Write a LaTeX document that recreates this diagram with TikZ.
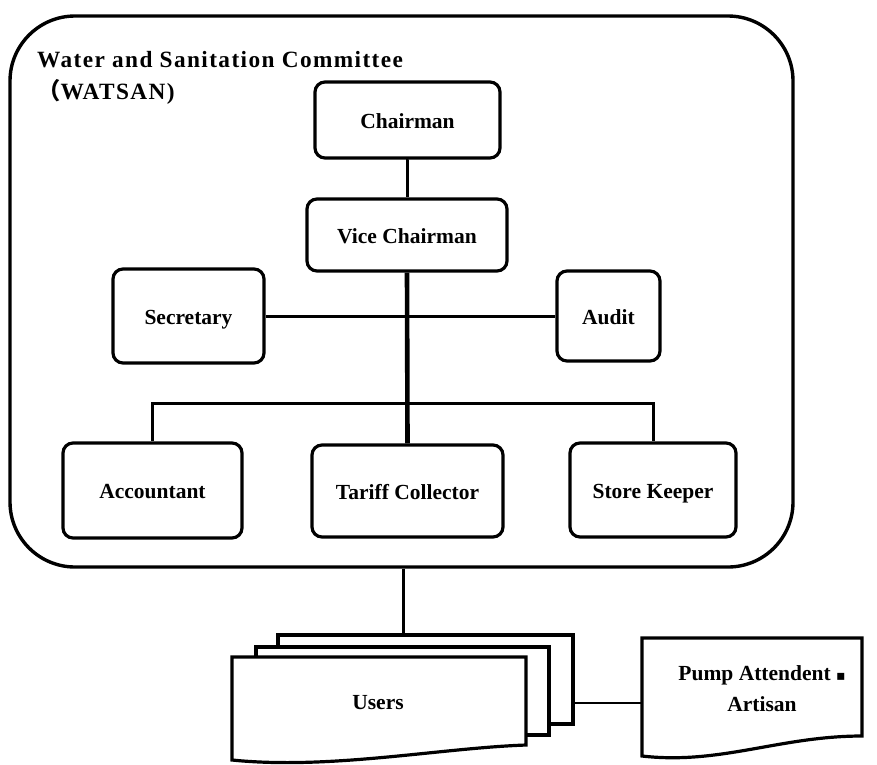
\documentclass[tikz,border=0pt]{standalone}
\usepackage{fontspec}
\setmainfont{Liberation Serif}
\newfontfamily\cjkfont{Noto Sans CJK SC}
\newfontfamily\symfont{DejaVu Sans}
\begin{document}
\begin{tikzpicture}[x=1pt,y=-1pt,
  box/.style={draw, line width=3.2pt, rounded corners=10pt, align=center,
    inner sep=0pt, text height=20pt, text depth=4pt,
    font=\bfseries\fontsize{21.5}{24}\selectfont},
  link/.style={line width=3pt},
  trunk/.style={line width=4.6pt},
  sheet/.style={draw, fill=white, line width=3.2pt, line join=miter},
  label/.style={align=center, inner sep=0pt, font=\bfseries\fontsize{21.5}{31}\selectfont}]
\useasboundingbox (0,0) rectangle (877,764);

% committee frame
\node[draw, line width=3.4pt, rounded corners=65pt, minimum width=783pt,
  minimum height=551pt, inner sep=0pt] (watsan) at (401.5,291.5) {};
\node[anchor=west, inner sep=0pt, align=left,
  font=\bfseries\fontsize{23.3}{32}\selectfont\addfontfeature{LetterSpace=6}]
  (title) at (37,78) {Water and Sanitation Committee\\{\cjkfont （}WATSAN)};

% committee members
\node[box, minimum width=185pt, minimum height=76pt] (chair) at (407.5,120) {Chairman};
\node[box, minimum width=200pt, minimum height=72pt] (vice) at (407,235) {Vice Chairman};
\node[box, minimum width=151pt, minimum height=94pt] (sec) at (188.5,316) {Secretary};
\node[box, minimum width=103pt, minimum height=90pt] (audit) at (608.5,316) {Audit};
\node[box, minimum width=179pt, minimum height=95pt] (acc) at (152.5,490.5) {Accountant};
\node[box, minimum width=191pt, minimum height=92pt] (tariff) at (407.5,491) {Tariff Collector};
\node[box, minimum width=166pt, minimum height=94pt] (store) at (653,490) {Store Keeper};

\coordinate (bus) at (0,403);
\draw[link] (chair.south) -- (vice.south |- chair.south) -- (vice.north);
\draw[link] (sec.east) -- (audit.west);
\draw[trunk] (vice.south) -- (tariff.north);
\draw[link] (acc.north) -- (acc.north |- bus) -- (store.north |- bus) -- (store.north);

% users: stacked document sheets
\draw[sheet] (278,635) rectangle (573,724);
\draw[sheet] (256,647) rectangle (549,735);
\draw[sheet] (232,657) -- (526,657) -- (526,745)
  .. controls (440,748) and (330,770) .. (232,760) -- cycle;
\node[label] (users) at (378,703) {Users};
\coordinate (usersTop) at (403,635);
\coordinate (usersEast) at (573,703);

% pump attendant sheet
\draw[sheet] (642,638) -- (862,638) -- (862,736)
  .. controls (780,736) and (720,765) .. (642,756) -- cycle;
\coordinate (pumpWest) at (642,703);
\node[label] (pump) at (762,689) {Pump Attendent {\symfont\fontsize{14}{14}\selectfont ▪}\\Artisan};

\draw[link] (watsan.south -| usersTop) -- (usersTop);
\draw[line width=2.2pt] (usersEast) -- (pumpWest);
\end{tikzpicture}
\end{document}
